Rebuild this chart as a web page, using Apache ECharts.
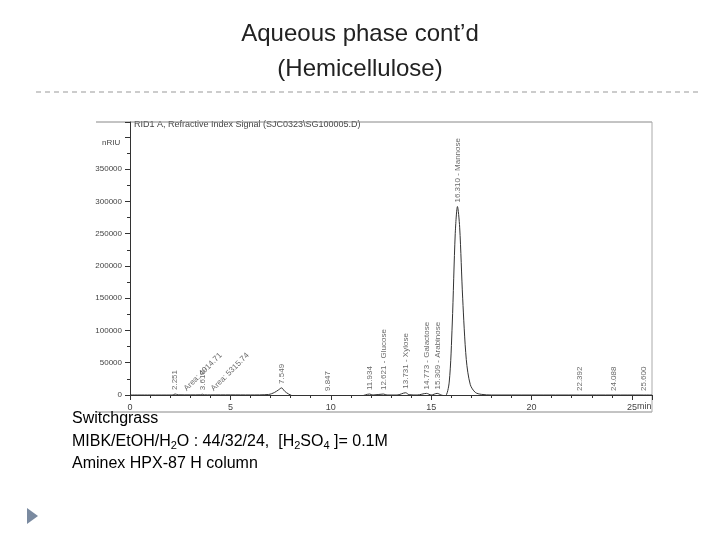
<!DOCTYPE html>
<html><head><meta charset="utf-8">
<script src="https://cdn.jsdelivr.net/npm/echarts@6/dist/echarts.min.js"></script>
<style>body{margin:0;background:#fff}#c{width:720px;height:540px}</style>
</head><body><div id="c"></div>
<script>
var timeMin=[0,1,2.1,2.25,2.4,3,3.5,3.6,3.7,4,5,6,6.9,7.2,7.4,7.55,7.7,7.9,8.2,9,9.8,10.5,11.5,11.93,12.1,12.62,12.8,13.3,13.73,13.9,14.3,14.77,15,15.3,15.5,15.7,15.9,16.05,16.2,16.31,16.42,16.57,16.75,16.95,17.2,17.5,18,20,22.4,24.1,25.5,26];
var signal=[0,0,0,1500,300,200,300,1200,300,200,200,100,800,4000,8000,11000,6000,1500,-2000,-2500,-2500,-2000,-1500,1500,0,1500,0,0,3500,500,0,2500,0,2500,0,-1500,20000,110000,250000,292000,260000,150000,55000,16000,4000,1000,0,0,0,0,0,0];
var peakNames=['2.251','Area: 4914.71','3.610','Area: 5315.74','7.549','9.847','11.934','12.621 - Glucose','13.731 - Xylose','14.773 - Galactose','15.309 - Arabinose','16.310 - Mannose','22.392','24.088','25.600'];
var peakTimes=[2.25,2.75,3.61,4.1,7.55,9.85,11.93,12.62,13.73,14.77,15.31,16.31,22.39,24.09,25.6];
var peakY=[1500,2000,1200,2000,11000,0,1500,1500,3500,2500,2500,292000,0,0,0];
var yTicks=[0,50000,100000,150000,200000,250000,300000,350000];
var c=echarts.init(document.getElementById('c'));
var pts=timeMin.map(function(t,i){return [t,signal[i]];});
var labs=peakTimes.map(function(t,i){return {value:[t,peakY[i]],name:peakNames[i],label:{rotate:(i==1||i==3)?45:90}};});
c.setOption({
 animation:false,
 graphic:[
  {type:'text',left:'center',top:22,style:{text:'Aqueous phase cont\u2019d',font:'24px "Liberation Sans", Arial',fill:'#222'}},
  {type:'text',left:'center',top:57,style:{text:'(Hemicellulose)',font:'24px "Liberation Sans", Arial',fill:'#222'}},
  {type:'line',shape:{x1:36,y1:92,x2:700,y2:92},style:{stroke:'#999',lineDash:[5,4],lineWidth:1}},
  {type:'text',left:134,top:120,style:{text:'RID1 A, Refractive Index Signal (SJC0323\\SG100005.D)',font:'9px "Liberation Sans", Arial',fill:'#444'}},
  {type:'text',left:102,top:139,style:{text:'nRIU',font:'8px "Liberation Sans", Arial',fill:'#444'}},
  {type:'text',left:637,top:402,style:{text:'min',font:'9px "Liberation Sans", Arial',fill:'#444'}},
  {type:'line',shape:{x1:96,y1:122,x2:652,y2:122},style:{stroke:'#888',lineWidth:1}},
  {type:'line',shape:{x1:96,y1:412,x2:652,y2:412},style:{stroke:'#888',lineWidth:1}},
  {type:'line',shape:{x1:652,y1:122,x2:652,y2:412},style:{stroke:'#aaa',lineWidth:1}},
  {type:'text',left:72,top:411,style:{text:'Switchgrass',font:'16px "Liberation Sans", Arial',fill:'#000'}},
  {type:'text',left:72,top:434,style:{rich:{n:{font:'16px "Liberation Sans", Arial',fill:'#000'},s:{font:'11px "Liberation Sans", Arial',fill:'#000',padding:[8,0,0,0]}},text:'{n|MIBK/EtOH/H}{s|2}{n|O : 44/32/24,  [H}{s|2}{n|SO}{s|4}{n| ]= 0.1M}'}},
  {type:'text',left:72,top:456,style:{text:'Aminex HPX-87 H column',font:'16px "Liberation Sans", Arial',fill:'#000'}},
  {type:'polygon',shape:{points:[[27,508],[27,524],[38,516]]},style:{fill:'#7a8aa0'}}
 ],
 grid:{left:130,right:68,top:122,bottom:145},
 xAxis:{type:'value',min:0,max:26,interval:5,axisLine:{show:true,onZero:false,lineStyle:{color:'#333'}},axisTick:{show:true,lineStyle:{color:'#333'}},minorTick:{show:true,splitNumber:5},axisLabel:{color:'#444',fontSize:9,margin:8,formatter:function(v){return v>25?'':v;}},splitLine:{show:false}},
 yAxis:{type:'value',min:0,max:423000,interval:50000,axisLine:{show:true,lineStyle:{color:'#333'}},axisTick:{show:true,lineStyle:{color:'#333'}},minorTick:{show:true,splitNumber:2},axisLabel:{color:'#444',fontSize:8,formatter:function(v){return yTicks.indexOf(v)>=0?v:'';}},splitLine:{show:false}},
 series:[
  {type:'line',data:pts,smooth:0.3,symbol:'none',lineStyle:{color:'#333',width:1}},
  {type:'scatter',data:labs,symbolSize:0,label:{show:true,formatter:'{b}',position:'top',align:'left',verticalAlign:'middle',distance:4,fontSize:8,color:'#444',fontFamily:'Liberation Sans'}}
 ]
});
</script></body></html>
